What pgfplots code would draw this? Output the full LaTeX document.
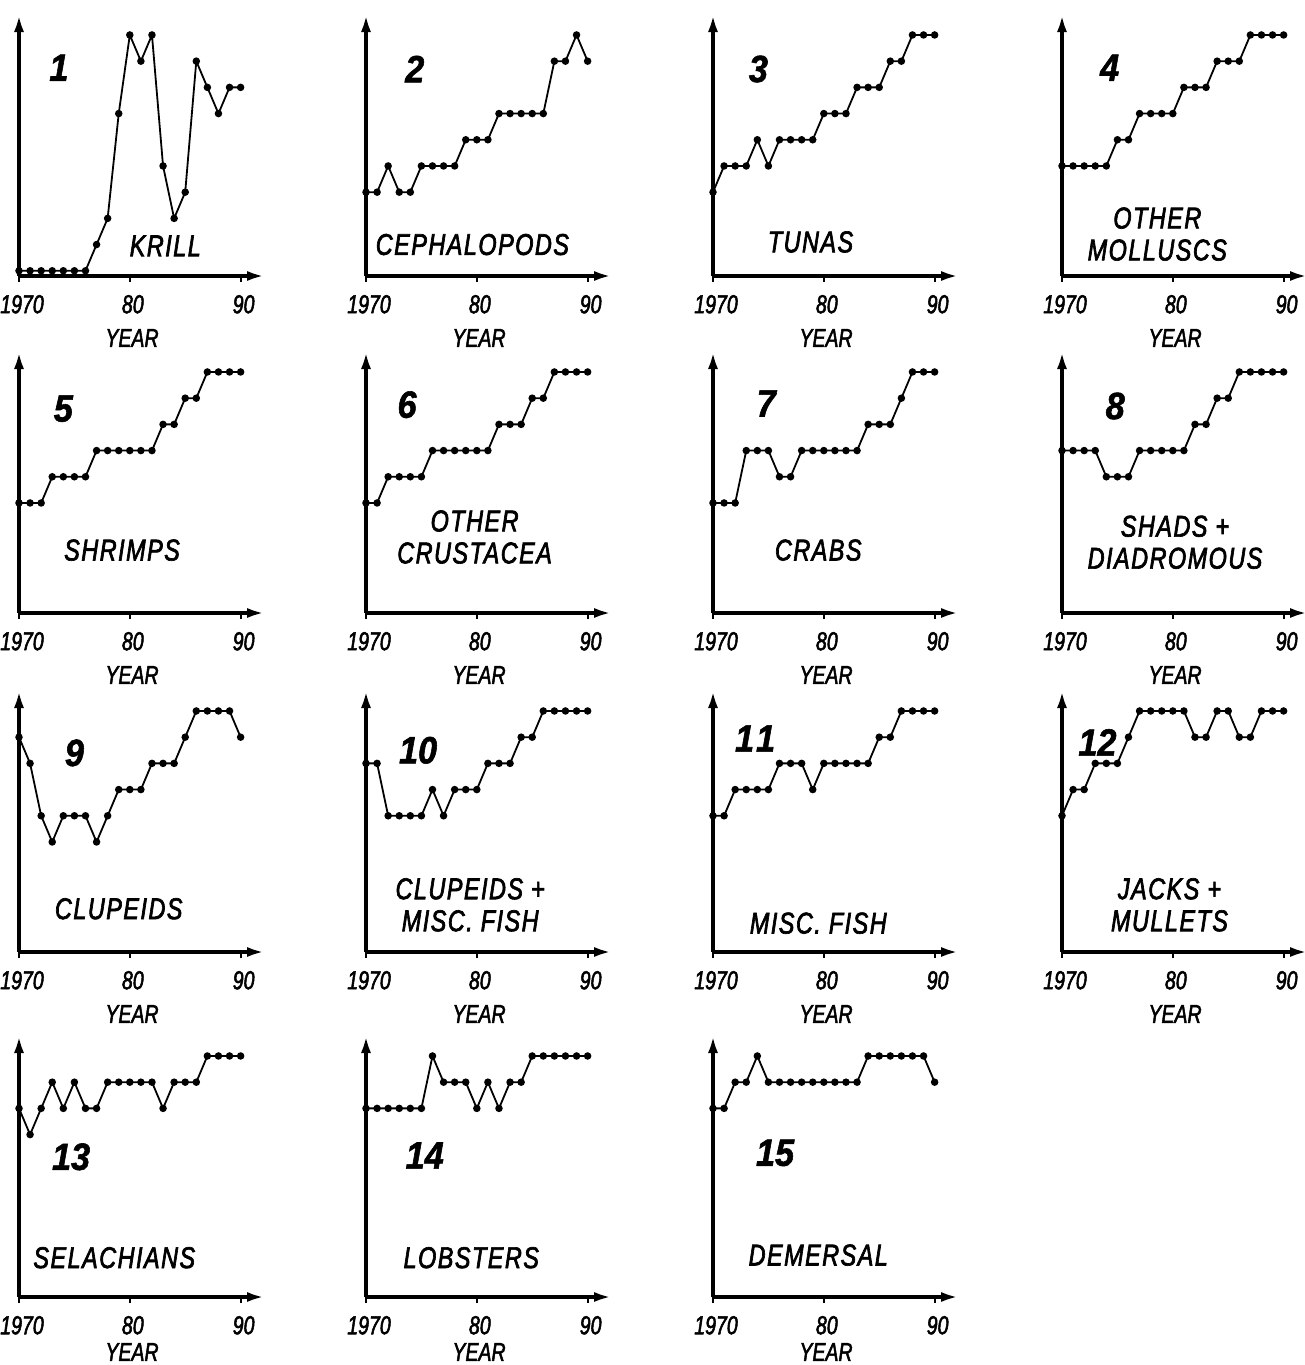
\documentclass[border=0pt]{standalone}
\usepackage{pgfplots}
\pgfplotsset{compat=1.18}
\usepackage{pgfplotstable}
\usepackage{fontspec}
\usetikzlibrary{arrows.meta}
\setmainfont{Liberation Sans}
\newfontfamily\lab{Liberation Sans}[FakeStretch=0.75,FakeBold=2]
\newfontfamily\cat{Liberation Sans}[FakeStretch=0.78,LetterSpace=5,FakeBold=2.2]
\newfontfamily\numf{Liberation Sans}[FakeStretch=0.9,FakeBold=1.5]

\pgfplotstableread{
year p1 p2 p3 p4 p5 p6 p7 p8 p9 p10 p11 p12 p13 p14 p15
1970 0 3 3 4 4 4 4 6 8 7 5 5 7 7 7
1971 0 3 4 4 4 4 4 6 7 7 5 6 6 7 7
1972 0 4 4 4 4 5 4 6 5 5 6 6 7 7 8
1973 0 3 4 4 5 5 6 6 4 5 6 7 8 7 8
1974 0 3 5 4 5 5 6 5 5 5 6 7 7 7 9
1975 0 4 4 5 5 5 6 5 5 5 6 7 8 7 8
1976 0 4 5 5 5 6 5 5 5 6 7 8 7 9 8
1977 1 4 5 6 6 6 5 6 4 5 7 9 7 8 8
1978 2 4 5 6 6 6 6 6 5 6 7 9 8 8 8
1979 6 5 5 6 6 6 6 6 6 6 6 9 8 8 8
1980 9 5 6 6 6 6 6 6 6 6 7 9 8 7 8
1981 8 5 6 7 6 6 6 6 6 7 7 9 8 8 8
1982 9 6 6 7 6 7 6 7 7 7 7 8 8 7 8
1983 4 6 7 7 7 7 6 7 7 7 7 8 7 8 8
1984 2 6 7 8 7 7 7 8 7 8 7 9 8 8 9
1985 3 6 7 8 8 8 7 8 8 8 8 9 8 9 9
1986 8 6 8 8 8 8 7 9 9 9 8 8 8 9 9
1987 7 8 8 9 9 9 8 9 9 9 9 8 9 9 9
1988 6 8 9 9 9 9 9 9 9 9 9 9 9 9 9
1989 7 9 9 9 9 9 9 9 9 9 9 9 9 9 9
1990 7 8 9 9 9 9 9 9 8 9 9 9 9 9 8
}\catch

\pgfplotsset{panel/.style={
  scale only axis, width=123pt, height=131pt,
  anchor=south west,
  xmin=1970, xmax=1992.2, ymin=-0.2, ymax=9.8,
  axis lines=left,
  axis line style={line width=1.8pt},
  x axis line style={line width=1.8pt, -{Latex[length=9pt,width=5pt]}},
  y axis line style={line width=1.8pt, -{Latex[length=9pt,width=5pt]}},
  xtick={1970,1980,1990}, xticklabels={1970,80,90},
  ytick=\empty,
  tick align=outside, major tick length=3pt,
  major tick style={black, line width=1pt},
  xticklabel style={font=\lab\itshape\fontsize{13}{15}\selectfont, yshift=-3pt, xshift=1.5pt},
  clip=false,
}}

\newcommand\panel[8]{%
\begin{axis}[panel, at={(#1pt,#2pt)}]
\addplot[black, line width=0.9pt, mark=*, mark size=1.4pt] table[x=year,y=#3]{\catch};
\node[font=\numf\bfseries\itshape\fontsize{19}{19}\selectfont] at (axis cs:#5) {#4};
\node[font=\cat\itshape\fontsize{15}{16}\selectfont, align=center] at (axis cs:#6) {#7};
\node[font=\lab\itshape\fontsize{13}{15}\selectfont, yshift=#8] at (axis cs:1980.2,-0.2) {YEAR};
\end{axis}}

\begin{document}
\begin{tikzpicture}
\useasboundingbox (0,0) rectangle (652.5pt,-682.5pt);
\panel{9.5}{-138}{p1}{1}{1973.6,7.75}{1983.2,0.95}{KRILL}{-31pt}
\panel{183}{-138}{p2}{2}{1974.4,7.7}{1979.6,1.0}{CEPHALOPODS}{-31pt}
\panel{356.5}{-138}{p3}{3}{1974.1,7.7}{1978.8,1.1}{TUNAS}{-31pt}
\panel{531}{-138}{p4}{4}{1974.3,7.75}{1978.6,1.4}{OTHER\\MOLLUSCS}{-31pt}
\panel{9.5}{-306.5}{p5}{5}{1974,7.6}{1979.3,2.2}{SHRIMPS}{-31pt}
\panel{183}{-306.5}{p6}{6}{1973.7,7.75}{1979.8,2.7}{OTHER\\CRUSTACEA}{-31pt}
\panel{356.5}{-306.5}{p7}{7}{1974.8,7.8}{1979.5,2.2}{CRABS}{-31pt}
\panel{531}{-306.5}{p8}{8}{1974.8,7.7}{1980.2,2.5}{SHADS +\\DIADROMOUS}{-31pt}
\panel{9.5}{-476}{p9}{9}{1975,7.4}{1979,1.45}{CLUPEIDS}{-31pt}
\panel{183}{-476}{p10}{10}{1974.7,7.5}{1979.4,1.6}{CLUPEIDS +\\MISC. FISH}{-31pt}
\panel{356.5}{-476}{p11}{\mbox{1}\kern1pt\mbox{1}}{1973.8,7.95}{1979.5,0.9}{MISC. FISH}{-31pt}
\panel{531}{-476}{p12}{12}{1973.2,7.8}{1979.7,1.6}{JACKS +\\MULLETS}{-31pt}
\panel{9.5}{-648.5}{p13}{13}{1974.7,5.15}{1978.6,1.3}{SELACHIANS}{-27.5pt}
\panel{183}{-648.5}{p14}{14}{1975.3,5.2}{1979.5,1.3}{LOBSTERS}{-27.5pt}
\panel{356.5}{-648.5}{p15}{15}{1975.6,5.3}{1979.5,1.4}{DEMERSAL}{-27.5pt}
\end{tikzpicture}
\end{document}
